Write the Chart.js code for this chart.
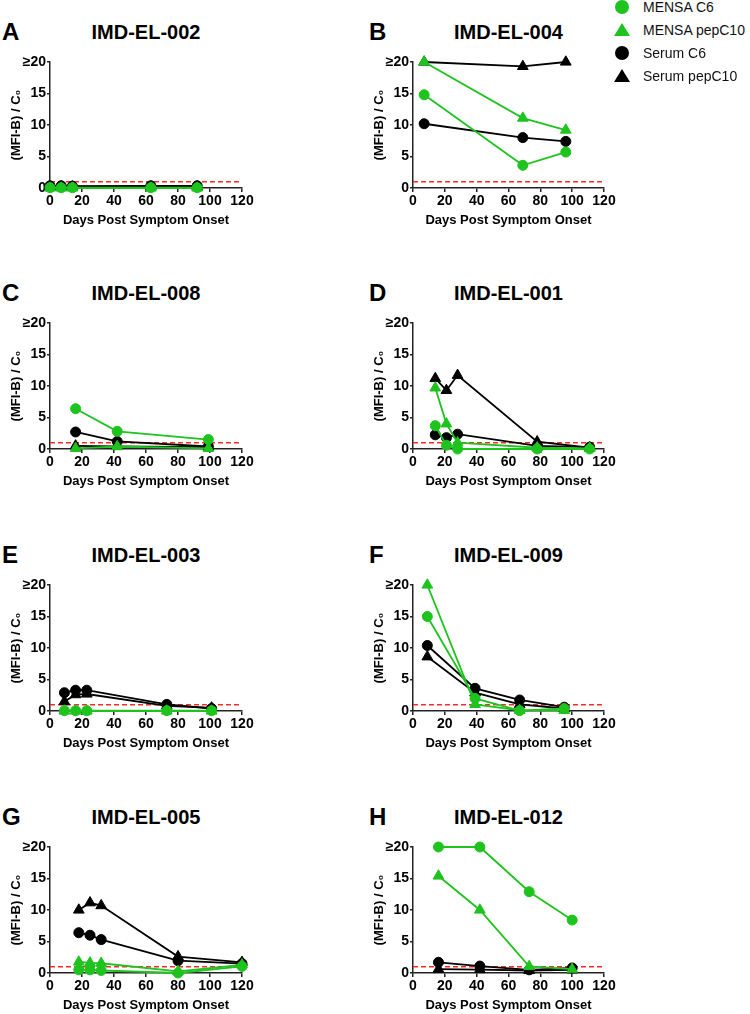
<!DOCTYPE html>
<html>
<head>
<meta charset="utf-8">
<script src="https://cdn.jsdelivr.net/npm/chart.js@4.4.0/dist/chart.umd.min.js"></script>
<style>
    body {
        margin: 0;
        width: 750px;
        height: 1014px;
        background: #fff;
        position: relative;
        overflow: hidden;
        font-family: "Liberation Sans", Arial, sans-serif;
    }
    canvas { position: absolute; }
    .letter, .title {
        position: absolute;
        font-weight: bold;
        color: #000;
        transform: translateY(-50%);
        line-height: 1;
        white-space: nowrap;
    }
    .letter { font-size: 24px; }
    .title { font-size: 20px; transform: translate(-50%, -50%); }
    .legend { position: absolute; left: 612px; top: 0; z-index: 5; }
    .legend-row { position: absolute; left: 0; height: 20px; width: 140px; }
    .legend-row span {
        position: absolute;
        left: 31px;
        top: 50%;
        transform: translateY(-50%);
        font-size: 14px;
        color: #111;
        white-space: nowrap;
    }
    .dot { position: absolute; left: 3px; top: 3px; width: 14px; height: 14px; border-radius: 50%; }
    .tri {
        position: absolute; left: 2px; top: 3px; width: 0; height: 0;
        border-left: 8px solid transparent;
        border-right: 8px solid transparent;
        border-bottom: 13px solid;
    }
</style>
</head>
<body>

<div class="legend" id="legend"></div>

<script>
// Panels, in reading order
const panelTitles = ['IMD-EL-002', 'IMD-EL-004', 'IMD-EL-008', 'IMD-EL-001',
                     'IMD-EL-003', 'IMD-EL-009', 'IMD-EL-005', 'IMD-EL-012'];
const panelLetters = ['A', 'B', 'C', 'D', 'E', 'F', 'G', 'H'];

// Sampling days for each panel
const panelDays = [
    [0, 7, 14, 63, 92],
    [7, 69, 96],
    [16, 42, 99],
    [14, 21, 28, 78, 111],
    [9, 16, 23, 73, 101],
    [9, 39, 67, 95],
    [18, 25, 32, 80, 120],
    [16, 42, 73, 100]
];

// (MFI-B) / C0 values, capped at 20
const mensaC6 = [
    [0.05, 0.05, 0.05, 0.05, 0.05],
    [14.8, 3.6, 5.7],
    [6.4, 2.8, 1.5],
    [3.7, 0.6, 0.0, 0.0, 0.0],
    [0.05, 0.05, 0.05, 0.05, 0.05],
    [15.0, 2.0, 0.05, 0.4],
    [0.5, 0.5, 0.4, 0.0, 1.05],
    [20, 20, 12.9, 8.4]
];
const mensaPepC10 = [
    [0, 0, 0, 0, 0],
    [20, 11.1, 9.2],
    [0.1, 0.4, 0.1],
    [9.7, 4.0, 1.0, 0.2, 0.1],
    [0, 0, 0, 0, 0],
    [20, 1.05, 0.1, 0.1],
    [1.75, 1.6, 1.55, 0.25, 1.3],
    [15.4, 10.0, 1.05, 0.6]
];
const serumC6 = [
    [0.35, 0.35, 0.3, 0.35, 0.35],
    [10.2, 8.0, 7.4],
    [2.7, 1.2, 0.4],
    [2.25, 1.8, 2.35, 0.5, 0.3],
    [2.9, 3.3, 3.3, 1.05, 0.4],
    [10.4, 3.6, 1.75, 0.6],
    [6.4, 6.0, 5.3, 1.95, 1.5],
    [1.7, 1.1, 0.5, 0.8]
];
const serumPepC10 = [
    [0.2, 0.2, 0.2, 0.2, 0.2],
    [20, 19.3, 20],
    [0.5, 0.4, 0.3],
    [11.2, 9.3, 11.7, 1.15, 0.2],
    [1.5, 2.6, 2.7, 0.8, 0.5],
    [8.6, 2.9, 1.05, 0.4],
    [10.0, 11.15, 10.7, 2.6, 1.7],
    [0.6, 0.55, 0.4, 0.5]
];

// Axes
const xTicks = [0, 20, 40, 60, 80, 100, 120];
const yTicks = [0, 5, 10, 15, 20];
const yTickLabels = ['0', '5', '10', '15', '\u226520'];

// Positivity cutoff (red dashed line)
const cutoff = 1;
const cutoffRange = [0, 120];

const GREEN = '#1ec31e';
const BLACK = '#000000';
const RED = '#ff2a2a';
const AXIS = '#222222';

const seriesDefs = [
    { label: 'MENSA C6', values: mensaC6, color: GREEN, shape: 'circle' },
    { label: 'MENSA pepC10', values: mensaPepC10, color: GREEN, shape: 'triangle' },
    { label: 'Serum C6', values: serumC6, color: BLACK, shape: 'circle' },
    { label: 'Serum pepC10', values: serumPepC10, color: BLACK, shape: 'triangle' }
];

// plot area geometry (layout only)
const rowTops = [62, 323, 585, 847];
const plotH = 126;
const colLefts = [50, 413];
const colRights = [242, 604];
const yAxisW = 50;
const xAxisH = 44;
const padTop = 10, padRight = 16, padBottom = 2;

function buildPanel(i) {
    const col = i % 2;
    const row = Math.floor(i / 2);
    const plotLeft = colLefts[col];
    const plotRight = colRights[col];
    const plotTop = rowTops[row];

    const canvas = document.createElement('canvas');
    const left = plotLeft - yAxisW;
    canvas.width = plotRight + padRight - left;
    canvas.height = padTop + plotH + xAxisH + padBottom;
    canvas.style.left = left + 'px';
    canvas.style.top = (plotTop - padTop) + 'px';
    document.body.appendChild(canvas);

    // title and panel letter
    const title = document.createElement('div');
    title.className = 'title';
    title.textContent = panelTitles[i];
    title.style.left = ((plotLeft + plotRight) / 2) + 'px';
    title.style.top = (plotTop - 30) + 'px';
    document.body.appendChild(title);

    const letter = document.createElement('div');
    letter.className = 'letter';
    letter.textContent = panelLetters[i];
    letter.style.left = (col ? 369 : 2) + 'px';
    letter.style.top = (plotTop - 30) + 'px';
    document.body.appendChild(letter);

    const days = panelDays[i];
    const datasets = seriesDefs.map(s => ({
        label: s.label,
        data: days.map((d, k) => ({ x: d, y: s.values[i][k] })),
        borderColor: s.color,
        backgroundColor: s.color,
        pointStyle: s.shape,
        pointRadius: s.shape === 'triangle' ? 6.2 : 5,
        pointBorderWidth: 1,
        borderWidth: 1.8,
        tension: 0,
        clip: false
    }));
    datasets.push({
        label: 'cutoff',
        data: cutoffRange.map(x => ({ x: x, y: cutoff })),
        borderColor: RED,
        borderWidth: 1.5,
        borderDash: [5, 3],
        pointRadius: 0,
        clip: false
    });

    const tickFont = { family: '"Liberation Sans", Arial, sans-serif', size: 14, weight: 'bold' };
    const titleFont = { family: '"Liberation Sans", Arial, sans-serif', size: 13, weight: 'bold' };

    new Chart(canvas, {
        type: 'line',
        data: { datasets: datasets },
        options: {
            responsive: false,
            animation: false,
            layout: { padding: { left: 0, top: padTop, right: padRight, bottom: padBottom } },
            plugins: {
                legend: { display: false },
                tooltip: { enabled: false }
            },
            scales: {
                x: {
                    type: 'linear',
                    min: xTicks[0],
                    max: xTicks[xTicks.length - 1],
                    afterBuildTicks: scale => { scale.ticks = xTicks.map(v => ({ value: v })); },
                    afterFit: scale => {
                        scale.height = xAxisH;
                        scale.paddingLeft = 0;
                        scale.paddingRight = 0;
                    },
                    ticks: { color: '#000', font: tickFont, padding: 1, maxRotation: 0, autoSkip: false },
                    grid: { drawOnChartArea: false, drawTicks: true, tickLength: 4, color: AXIS, lineWidth: 1.5 },
                    border: { color: AXIS, width: 1.5 },
                    title: { display: true, text: 'Days Post Symptom Onset', color: '#000', font: titleFont, padding: { top: 4, bottom: 4 } }
                },
                y: {
                    type: 'linear',
                    min: yTicks[0],
                    max: yTicks[yTicks.length - 1],
                    afterBuildTicks: scale => { scale.ticks = yTicks.map(v => ({ value: v })); },
                    afterFit: scale => {
                        scale.width = yAxisW;
                        scale.paddingTop = 0;
                        scale.paddingBottom = 0;
                    },
                    ticks: {
                        color: '#000',
                        font: tickFont,
                        padding: 1,
                        autoSkip: false,
                        callback: (v) => yTickLabels[yTicks.indexOf(v)]
                    },
                    grid: { drawOnChartArea: false, drawTicks: true, tickLength: 3, color: AXIS, lineWidth: 1.5 },
                    border: { color: AXIS, width: 1.5 },
                    title: { display: true, text: '(MFI-B) / C\u2080', color: '#000', font: titleFont, padding: { top: 9, bottom: 4 } }
                }
            }
        }
    });
}

function buildLegend() {
    const legend = document.getElementById('legend');
    const rowCenters = [7, 30, 53, 76];
    seriesDefs.forEach((s, k) => {
        const rowEl = document.createElement('div');
        rowEl.className = 'legend-row';
        rowEl.style.top = (rowCenters[k] - 10) + 'px';
        const mark = document.createElement('div');
        if (s.shape === 'circle') {
            mark.className = 'dot';
            mark.style.background = s.color;
        } else {
            mark.className = 'tri';
            mark.style.borderBottomColor = s.color;
        }
        const txt = document.createElement('span');
        txt.textContent = s.label;
        rowEl.appendChild(mark);
        rowEl.appendChild(txt);
        legend.appendChild(rowEl);
    });
}

for (let i = 0; i < panelTitles.length; i++) {
    buildPanel(i);
}
buildLegend();
</script>
</body>
</html>
